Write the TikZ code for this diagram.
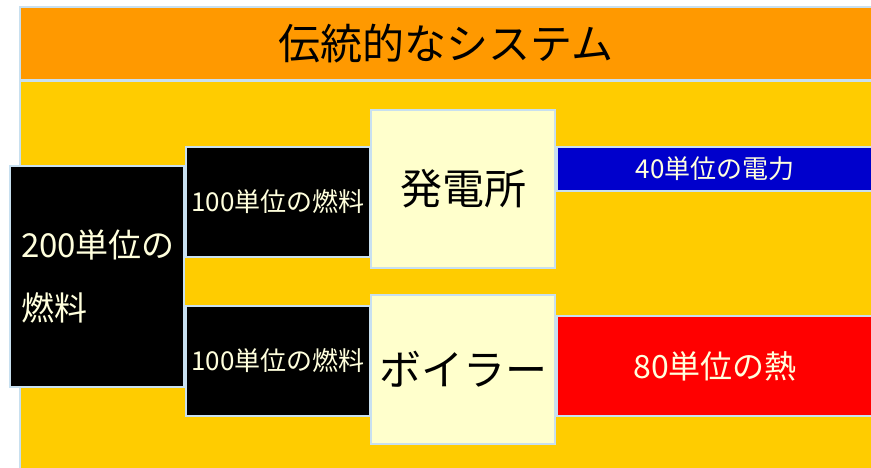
\documentclass[tikz,border=0pt]{standalone}
\usepackage{fontspec}
\newfontfamily\jp{Noto Sans CJK JP}
\definecolor{frameblue}{HTML}{C8E0F0}
\definecolor{titleorange}{HTML}{FF9900}
\definecolor{bgyellow}{HTML}{FFCC00}
\definecolor{paleyellow}{HTML}{FFFFCC}
\definecolor{powerblue}{HTML}{0000CC}
\definecolor{heatred}{HTML}{FF0000}
\definecolor{creamtext}{HTML}{FFFFDD}
\tikzset{
  box/.style={draw=frameblue, line width=1.2pt, anchor=north west, inner sep=0pt, outer sep=0pt},
  fuelbox/.style={box, fill=black, text=creamtext},
  plantbox/.style={box, fill=paleyellow, text=black},
}
\begin{document}
\begin{tikzpicture}[x=1pt,y=-1pt]
\useasboundingbox (0,0) rectangle (871,468);
\fill[white] (0,0) rectangle (871,468);
% title band and background
\node[box, fill=titleorange, minimum width=852pt, minimum height=73pt, font=\jp\fontsize{42}{44}\selectfont] (title) at (20,7) {伝統的なシステム};
\node[box, fill=bgyellow, minimum width=852pt, minimum height=388pt] (bg) at (20,81) {};
% fuel boxes
\node[fuelbox, minimum width=174pt, minimum height=221pt, text width=152pt, align=left, font=\jp\fontsize{33}{63}\selectfont] (fuel) at (10,166) {200単位の\\燃料};
\node[fuelbox, minimum width=184pt, minimum height=110pt, font=\jp\fontsize{26}{28}\selectfont] (fuelA) at (186,147) {100単位の燃料};
\node[fuelbox, minimum width=184pt, minimum height=110pt, font=\jp\fontsize{26}{28}\selectfont] (fuelB) at (186,306) {100単位の燃料};
% plants
\node[plantbox, minimum width=184pt, minimum height=158pt, font=\jp\fontsize{42}{44}\selectfont] (plant) at (371,110) {発電所};
\node[plantbox, minimum width=184pt, minimum height=149pt, font=\jp\fontsize{42}{44}\selectfont] (boiler) at (371,295) {ボイラー};
% outputs
\node[box, fill=powerblue, text=creamtext, minimum width=316pt, minimum height=44pt, font=\jp\fontsize{26}{28}\selectfont] (power) at (557,147) {40単位の電力};
\node[box, fill=heatred, text=creamtext, minimum width=316pt, minimum height=100pt, font=\jp\fontsize{32}{34}\selectfont] (heat) at (557,316) {80単位の熱};
\end{tikzpicture}
\end{document}
